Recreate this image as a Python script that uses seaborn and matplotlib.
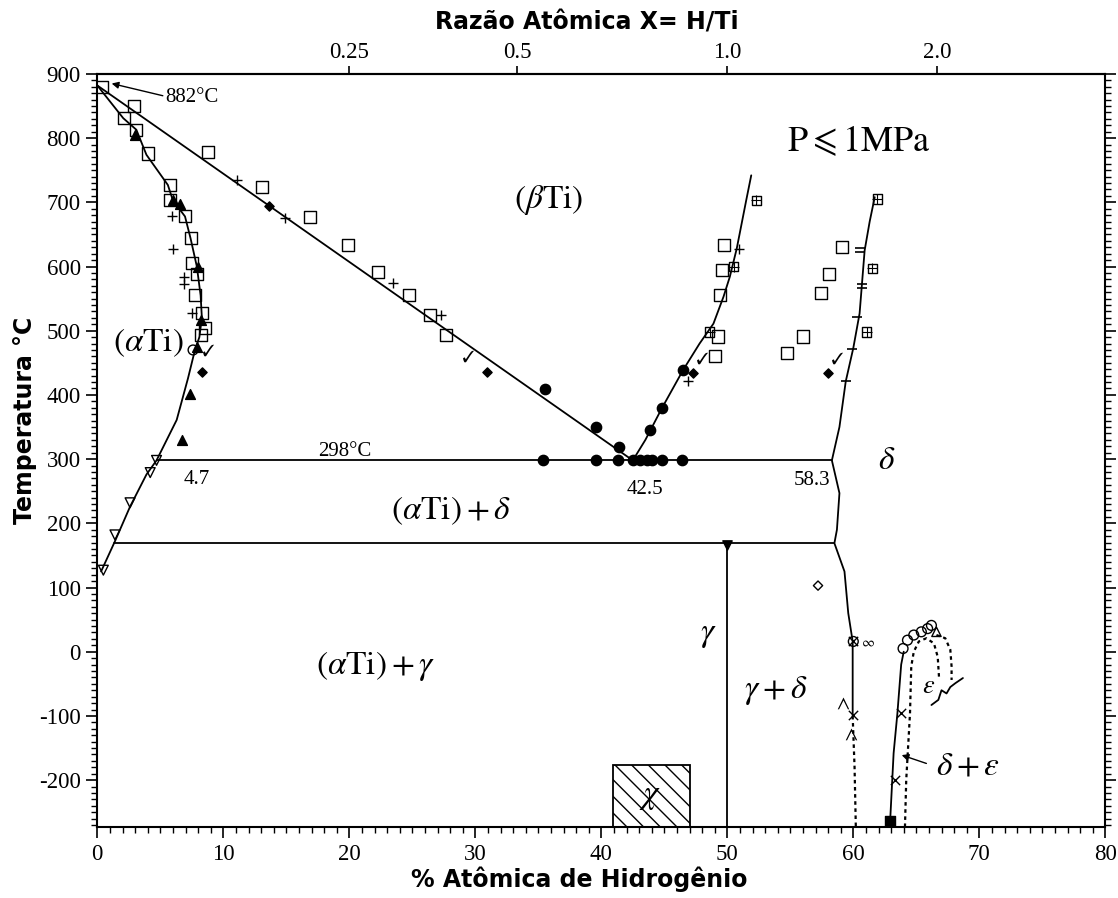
import warnings
import numpy as np
import matplotlib
matplotlib.use("Agg")
import matplotlib.pyplot as plt
from matplotlib.patches import Rectangle
from matplotlib.ticker import MultipleLocator, NullLocator
from matplotlib.mathtext import MathTextParser
import seaborn as sns

warnings.filterwarnings("ignore", category=UserWarning)

sns.set_theme(style="ticks")
plt.rcParams.update({
    "font.family": ["Liberation Serif", "DejaVu Serif"],
    "mathtext.fontset": "stix",
    "axes.edgecolor": "black",
    "axes.linewidth": 1.5,
    "axes.unicode_minus": False,
    "hatch.linewidth": 1.0,
    "text.color": "black",
    "axes.labelcolor": "black",
    "xtick.color": "black",
    "ytick.color": "black",
    "figure.facecolor": "white",
    "axes.facecolor": "white",
})

# ---------------- phase boundaries (at.% H, temperature in °C) ----------------
alpha_x = [0.0, 2.06, 3.1, 3.9, 5.6, 6.0, 6.96, 7.4, 7.9, 8.2, 8.3, 8.1, 7.75, 7.2, 6.3, 4.7, 3.9, 2.6, 1.4, 0.3]
alpha_t = [882, 831, 813, 774, 727, 703, 678, 644, 600, 555, 520, 490, 470, 426, 361, 298, 276, 226, 172, 125]
beta_left_x = [0.0, 42.5]
beta_left_t = [882, 298]
beta_right_x = [42.5, 43.5, 44.8, 46.5, 47.8, 48.9, 49.7, 50.2, 50.75, 51.5, 51.9]
beta_right_t = [298, 330, 379, 439, 480, 511, 553, 584, 628, 703, 742]
delta_x = [61.7, 61.3, 60.9, 60.5, 60.0, 59.4, 58.9, 58.3, 58.9, 58.7, 58.5, 59.3, 59.6, 59.95, 59.95]
delta_t = [708, 670, 625, 527, 473, 421, 350, 298, 247, 190, 169, 125, 60, 16, -100]
delta_low_x = [59.95, 60.1, 60.2]
delta_low_t = [-100, -180, -273]
eps_solid_x = [62.9, 63.2, 63.5, 63.8, 64.0]
eps_solid_t = [-273, -158, -96, -20, 0]
eps_inner_x = [64.1, 64.2, 64.5, 64.6, 64.8, 65.2, 65.8, 66.4, 66.7, 66.8]
eps_inner_t = [-273, -200, -96, -23, 0, 16, 21, 13, -8, -39]
eps_outer_x = [66.6, 67.3, 67.7, 67.8, 67.8]
eps_outer_t = [26, 21, 3, -23, -44]
squiggle_x = [66.2, 66.75, 67.0, 67.4, 67.7, 68.1, 68.7]
squiggle_t = [-83, -75, -60, -65, -55, -49, -41]
gamma_x = [50.0, 50.0]
gamma_t = [169, -273]
eutectoid_x = [4.7, 58.3]
eutectoid_t = [298, 298]
lower_x = [1.33, 58.5]
lower_t = [169, 169]
chi_x = [40.9, 47.0]
chi_t = [-273, -177]

# ---------------- experimental points ----------------
square_x = [0.4, 2.1, 3.1, 4.0, 5.8, 5.8, 6.96, 7.4, 7.5, 7.9, 7.75, 8.3, 8.2, 8.55,
            2.9, 8.8, 13.1, 16.9, 19.9, 22.25, 24.7, 26.4, 27.7,
            49.0, 49.3, 49.4, 49.6, 49.7,
            59.1, 58.1, 57.4, 56.0, 54.7]
square_t = [880, 831, 813, 776, 727, 703, 678, 644, 605, 589, 556, 527, 493, 504,
            850, 779, 724, 677, 633, 592, 556, 524, 493,
            460, 491, 556, 595, 633,
            631, 589, 558, 491, 465]
gridsq_x = [48.6, 50.5, 52.3, 61.9, 61.5, 61.05]
gridsq_t = [498, 600, 703, 705, 597, 498]
plus_x = [5.9, 6.0, 6.9, 6.9, 7.5, 11.06, 14.9, 23.5, 27.3, 46.9, 50.9]
plus_t = [678, 628, 584, 573, 527, 735, 675, 574, 524, 421, 628]
bar_x = [60.5, 60.5, 60.7, 60.7, 60.3, 59.9, 59.4]
bar_t = [629, 622, 573, 566, 522, 471, 421]
tri_x = [3.0, 6.03, 6.56, 8.0, 8.2, 7.9, 7.36, 6.7]
tri_t = [805, 703, 698, 600, 517, 475, 402, 330]
diam_x = [13.6, 30.9, 8.3, 47.3, 58.0]
diam_t = [694, 436, 436, 434, 434]
dot_x = [35.4, 39.6, 41.35, 42.5, 43.1, 43.6, 44.0, 44.8, 46.4,
         35.5, 39.6, 41.4, 43.9, 44.8, 46.5]
dot_t = [298, 298, 298, 298, 298, 298, 298, 298, 298,
         409, 350, 319, 345, 379, 439]
check_x = [29.4, 48.0, 58.7, 8.8]
check_t = [460, 457, 457, 470]
dtri_x = [0.48, 1.4, 2.6, 4.2, 4.7]
dtri_t = [127, 182, 232, 279, 298]
circ_x = [7.6, 60.0, 63.95, 64.3, 64.8, 65.4, 65.9, 66.2]
circ_t = [470, 16, 5, 18, 26, 31, 36, 41]
otri_x = [66.6]
otri_t = [31]
odiam_x = [57.2]
odiam_t = [103]
cross_x = [60.0, 60.0, 63.8, 63.3]
cross_t = [16, -99, -96, -200]
caret_x = [59.2, 59.8]
caret_t = [-80, -128]
loop_x = [61.2]
loop_t = [13]
bsq_x = [62.9]
bsq_t = [-263]
gamma_pt_x = [50.0]
gamma_pt_t = [166]

# ---------------- axis ticks ----------------
ratio_ticks = [0.25, 0.5, 1.0, 2.0]
ratio_labels = ["0.25", "0.5", "1.0", "2.0"]
temp_ticks = list(range(-200, 901, 100))
comp_ticks = list(range(0, 81, 10))


def mathtext_ok(s):
    try:
        MathTextParser("agg").parse(s)
        return True
    except Exception:
        return False


LEQ = r"\leqslant" if mathtext_ok(r"$\leqslant$") else r"\leq"
CHECK = r"$\checkmark$" if mathtext_ok(r"$\checkmark$") else r"$\vee$"

W, H = 1118, 898
fig = plt.figure(figsize=(W / 100, H / 100), dpi=100)
ax = fig.add_axes([97.3 / W, (H - 827) / H, 1008 / W, (827 - 73.9) / H])

LW = 1.3


def line(x, y, ls="-", lw=LW):
    sns.lineplot(x=x, y=y, sort=False, estimator=None, color="black",
                 lw=lw, linestyle=ls, ax=ax, zorder=2)


for xs, ys in [(alpha_x, alpha_t), (beta_left_x, beta_left_t),
               (beta_right_x, beta_right_t), (delta_x, delta_t),
               (eps_solid_x, eps_solid_t), (gamma_x, gamma_t),
               (eutectoid_x, eutectoid_t), (lower_x, lower_t),
               (squiggle_x, squiggle_t)]:
    line(xs, ys)
for xs, ys in [(delta_low_x, delta_low_t), (eps_inner_x, eps_inner_t),
               (eps_outer_x, eps_outer_t)]:
    line(xs, ys, ls=(0, (1.6, 1.6)), lw=1.6)


def pts(x, y, marker, s, filled=False, lw=1.0):
    if filled:
        sns.scatterplot(x=x, y=y, marker=marker, s=s, color="black",
                        edgecolor="black", linewidth=lw, ax=ax, zorder=3)
    else:
        sns.scatterplot(x=x, y=y, marker=marker, s=s, facecolor="none",
                        edgecolor="black", linewidth=lw, ax=ax, zorder=3)


pts(square_x, square_t, "s", 75)
pts(gridsq_x, gridsq_t, "s", 45)
pts(gridsq_x, gridsq_t, "+", 45, filled=True, lw=0.8)
pts(plus_x, plus_t, "+", 55, filled=True)
pts(bar_x, bar_t, "_", 55, filled=True, lw=1.2)
pts(tri_x, tri_t, "^", 50, filled=True)
pts(diam_x, diam_t, "D", 22, filled=True)
pts(dot_x, dot_t, "o", 55, filled=True)
pts(check_x, check_t, CHECK, 70, filled=True, lw=0)
pts(dtri_x, dtri_t, "v", 50)
pts(circ_x, circ_t, "o", 50)
pts(otri_x, otri_t, "^", 45)
pts(odiam_x, odiam_t, "D", 22)
pts(cross_x, cross_t, "x", 45, filled=True)
pts(caret_x, caret_t, r"$\wedge$", 70, filled=True, lw=0)
pts(loop_x, loop_t, r"$\infty$", 60, filled=True, lw=0)
pts(bsq_x, bsq_t, "s", 55, filled=True)
pts(gamma_pt_x, gamma_pt_t, "v", 45, filled=True)

# chi phase box
ax.add_patch(Rectangle((chi_x[0], chi_t[0]), chi_x[1] - chi_x[0], chi_t[1] - chi_t[0],
                       facecolor="white", edgecolor="black", lw=1.3,
                       hatch="\\\\", zorder=2.5))

# ---------------- region and point labels ----------------
big = 24
ax.text(35.8, 703, r"$(\beta\mathrm{Ti})$", fontsize=big, ha="center", va="center")
ax.text(4.03, 481, r"$(\alpha\mathrm{Ti})$", fontsize=big, ha="center", va="center")
ax.text(28.1, 220, r"$(\alpha\mathrm{Ti})+\delta$", fontsize=big, ha="center", va="center")
ax.text(22.1, -22, r"$(\alpha\mathrm{Ti})+\gamma$", fontsize=big, ha="center", va="center")
ax.text(48.5, 26, r"$\gamma$", fontsize=big, ha="center", va="center")
ax.text(53.85, -60, r"$\gamma+\delta$", fontsize=big, ha="center", va="center")
ax.text(62.65, 298, r"$\delta$", fontsize=big, ha="center", va="center")
ax.text(65.95, -55, r"$\varepsilon$", fontsize=19, ha="center", va="center")
ax.text(69.1, -179, r"$\delta+\varepsilon$", fontsize=big, ha="center", va="center")
ax.text(43.9, -226, r"$\chi$", fontsize=big, ha="center", va="center", zorder=4)
ax.text(60.45, 795, r"$\mathrm{P}" + LEQ + r"\mathrm{1MPa}$", fontsize=26,
        ha="center", va="center")

small = 15
ax.text(7.5, 863, "882°C", fontsize=small, ha="center", va="center")
ax.text(19.66, 312, "298°C", fontsize=small, ha="center", va="center")
ax.text(7.9, 269, "4.7", fontsize=small, ha="center", va="center")
ax.text(43.5, 252, "42.5", fontsize=small, ha="center", va="center")
ax.text(56.76, 267, "58.3", fontsize=small, ha="center", va="center")

arrow = dict(arrowstyle="-|>", lw=1.0, color="black", mutation_scale=10,
             shrinkA=0, shrinkB=0)
ax.annotate("", xy=(1.14, 885), xytext=(5.2, 866), arrowprops=arrow)
ax.annotate("", xy=(63.84, -161), xytext=(65.8, -174), arrowprops=arrow)

# ---------------- axes ----------------
ax.set_xlim(0, 80)
ax.set_ylim(-273, 900)
ax.set_xticks(comp_ticks)
ax.set_yticks(temp_ticks)
ax.xaxis.set_minor_locator(MultipleLocator(1))
ax.yaxis.set_minor_locator(MultipleLocator(10))
ax.tick_params(axis="both", which="major", direction="out", length=8, width=1.2,
               labelsize=16.5, pad=4, labelcolor="black")
ax.tick_params(axis="both", which="minor", direction="out", length=4, width=1.0)
ax.tick_params(axis="x", which="both", top=False, bottom=True)
ax.tick_params(axis="y", which="both", left=True, right=True, labelright=False)
for lab in ax.get_xticklabels() + ax.get_yticklabels():
    lab.set_family(["Liberation Serif", "DejaVu Serif"])
ax.set_xlabel("")
ax.set_ylabel("")
for sp in ax.spines.values():
    sp.set_visible(True)
    sp.set_linewidth(1.5)
    sp.set_color("black")


def to_ratio(c):
    c = np.clip(np.asarray(c, dtype=float), 0.0, 99.0)
    return c / (100.0 - c)


def to_pct(r):
    r = np.clip(np.asarray(r, dtype=float), 0.0, None)
    return 100.0 * r / (1.0 + r)


sec = ax.secondary_xaxis("top", functions=(to_ratio, to_pct))
sec.set_xticks(ratio_ticks)
sec.set_xticklabels(ratio_labels)
sec.xaxis.set_minor_locator(NullLocator())
sec.tick_params(axis="x", direction="out", length=6, width=1.2, labelsize=16.5,
                pad=2, labelcolor="black")
sec.spines["top"].set_linewidth(1.5)

lab_font = dict(family=["DejaVu Sans"], weight="bold", fontsize=17, color="black")
fig.text(579 / W, 1 - 879 / H, "% Atômica de Hidrogênio", ha="center", va="center", **lab_font)
fig.text(587 / W, 1 - 23 / H, "Razão Atômica X= H/Ti", ha="center", va="center", **lab_font)
fig.text(25 / W, 1 - 420 / H, "Temperatura °C", ha="center", va="center", rotation=90, **lab_font)

fig.savefig("out.png", dpi=100)
